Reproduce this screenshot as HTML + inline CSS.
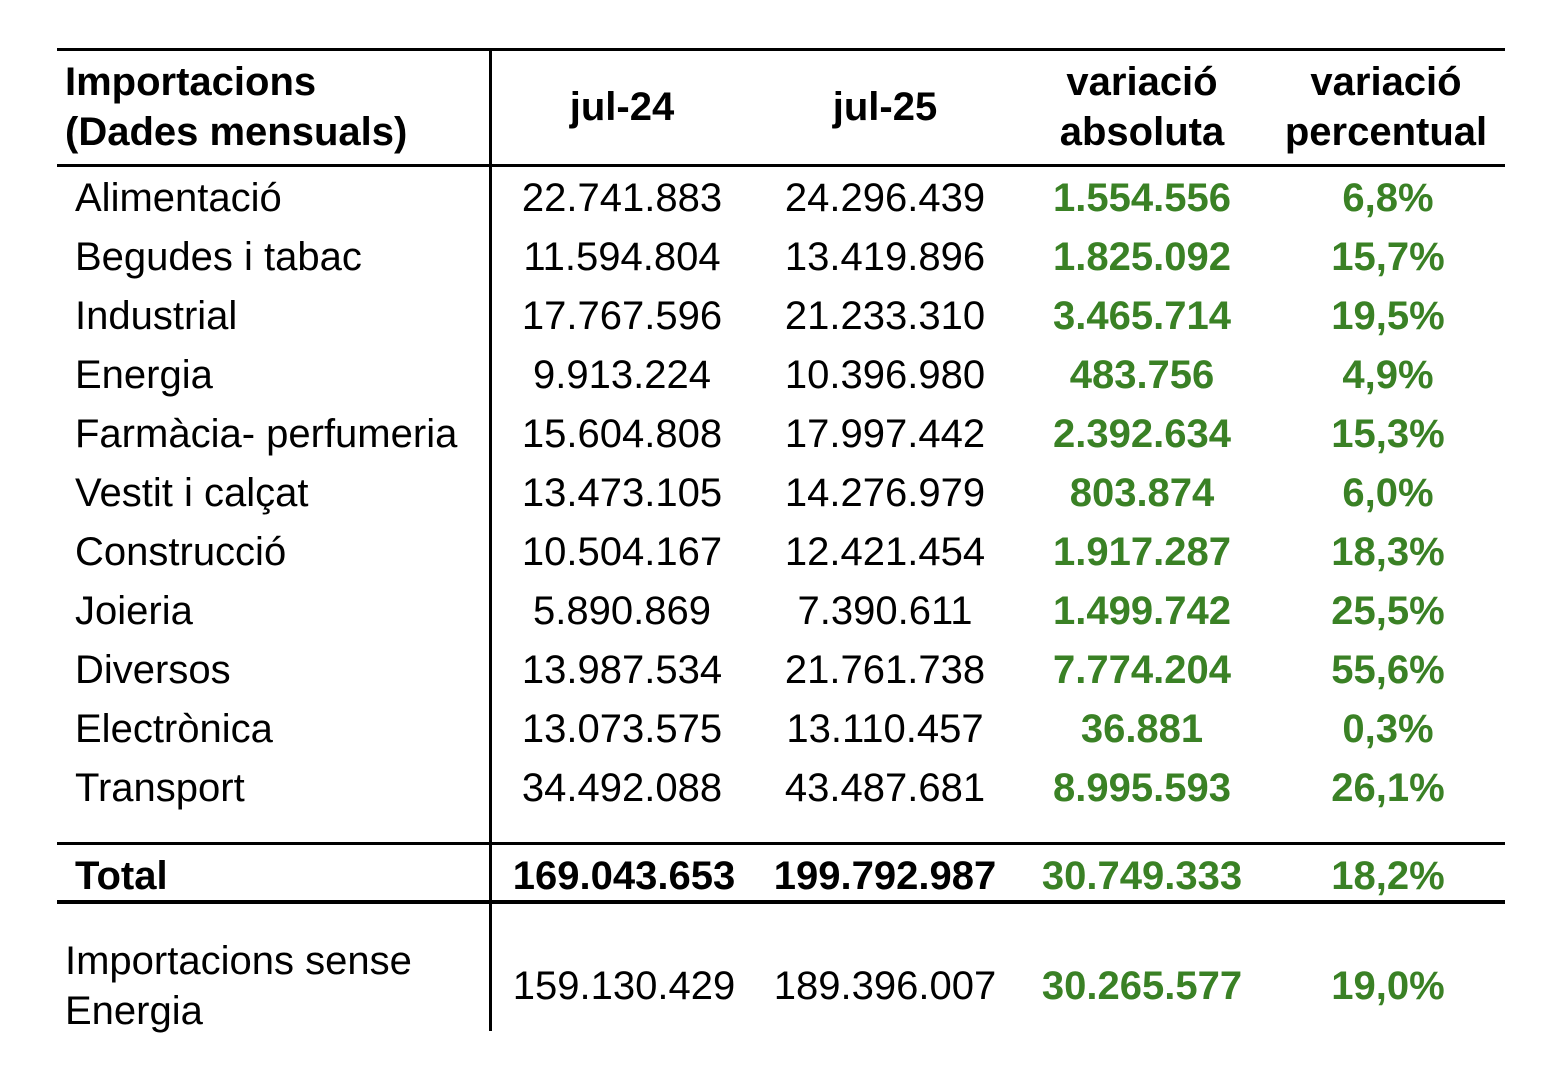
<!DOCTYPE html>
<html><head><meta charset="utf-8"><style>
body{margin:0;width:1544px;height:1083px;background:#fff;position:relative;overflow:hidden;font-family:"Liberation Sans",Arial,sans-serif;font-size:40px;color:#000}
.l{position:absolute;background:#000}
.t{position:absolute;white-space:nowrap;line-height:40px;transform:translateY(-50%)}
.c{text-align:center;width:300px;margin-left:-150px}
.b{font-weight:bold}
.g{color:#3a8125;font-weight:bold}
</style></head><body>
<div class="l" style="left:57px;top:48px;width:1448px;height:3px"></div>
<div class="l" style="left:57px;top:164px;width:1448px;height:3px"></div>
<div class="l" style="left:489px;top:48px;width:3px;height:983px"></div>
<div class="l" style="left:57px;top:842px;width:1448px;height:3px"></div>
<div class="l" style="left:57px;top:900px;width:1448px;height:4px"></div>

<div class="t b" style="left:65px;top:82px">Importacions</div>
<div class="t b" style="left:65px;top:132px">(Dades mensuals)</div>
<div class="t b c" style="left:622px;top:107px">jul-24</div>
<div class="t b c" style="left:885px;top:107px">jul-25</div>
<div class="t b c" style="left:1142px;top:82px">variació</div>
<div class="t b c" style="left:1142px;top:132px">absoluta</div>
<div class="t b c" style="left:1386px;top:82px">variació</div>
<div class="t b c" style="left:1386px;top:132px">percentual</div>

<div id="rows"></div>
<script>
var d=[["Alimentació","22.741.883","24.296.439","1.554.556","6,8%"],
["Begudes i tabac","11.594.804","13.419.896","1.825.092","15,7%"],
["Industrial","17.767.596","21.233.310","3.465.714","19,5%"],
["Energia","9.913.224","10.396.980","483.756","4,9%"],
["Farmàcia- perfumeria","15.604.808","17.997.442","2.392.634","15,3%"],
["Vestit i calçat","13.473.105","14.276.979","803.874","6,0%"],
["Construcció","10.504.167","12.421.454","1.917.287","18,3%"],
["Joieria","5.890.869","7.390.611","1.499.742","25,5%"],
["Diversos","13.987.534","21.761.738","7.774.204","55,6%"],
["Electrònica","13.073.575","13.110.457","36.881","0,3%"],
["Transport","34.492.088","43.487.681","8.995.593","26,1%"]];
var h="";
d.forEach(function(r,i){var y=198+i*59;
h+='<div class="t" style="left:75px;top:'+y+'px">'+r[0]+'</div>';
h+='<div class="t c" style="left:622px;top:'+y+'px">'+r[1]+'</div>';
h+='<div class="t c" style="left:885px;top:'+y+'px">'+r[2]+'</div>';
h+='<div class="t c g" style="left:1142px;top:'+y+'px">'+r[3]+'</div>';
h+='<div class="t c g" style="left:1388px;top:'+y+'px">'+r[4]+'</div>';});
document.getElementById("rows").innerHTML=h;
</script>
<div class="t b" style="left:75px;top:876px">Total</div>
<div class="t b c" style="left:624px;top:876px">169.043.653</div>
<div class="t b c" style="left:885px;top:876px">199.792.987</div>
<div class="t c g" style="left:1142px;top:876px">30.749.333</div>
<div class="t c g" style="left:1388px;top:876px">18,2%</div>

<div class="t" style="left:65px;top:961px">Importacions sense</div>
<div class="t" style="left:65px;top:1011px">Energia</div>
<div class="t c" style="left:624px;top:986px">159.130.429</div>
<div class="t c" style="left:885px;top:986px">189.396.007</div>
<div class="t c g" style="left:1142px;top:986px">30.265.577</div>
<div class="t c g" style="left:1388px;top:986px">19,0%</div>
</body></html>
